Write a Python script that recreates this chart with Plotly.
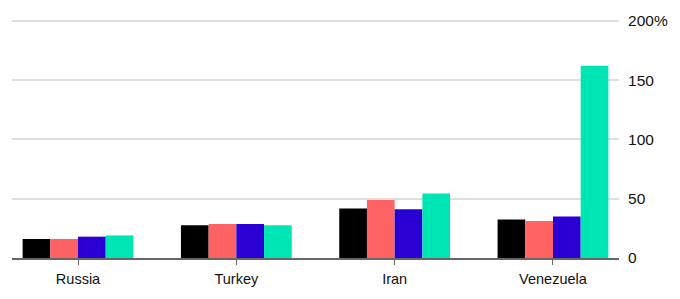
import plotly.graph_objects as go

categories = ["Russia", "Turkey", "Iran", "Venezuela"]
series_a = [16, 27.6, 41.8, 32.4]
series_b = [16, 28.7, 49, 31.2]
series_c = [18, 28.7, 41, 34.9]
series_d = [19, 27.6, 54.4, 162]
colors = ["#000000", "#FF6262", "#2A00D5", "#00E5B4"]
tick_vals = [0, 50, 100, 150, 200]
tick_text = ["0", "50", "100", "150", "200%"]

fig = go.Figure()
for vals, col in zip([series_a, series_b, series_c, series_d], colors):
    fig.add_trace(go.Bar(x=categories, y=vals, marker=dict(color=col, line=dict(width=0)),
                         showlegend=False, hoverinfo="skip"))

fig.update_layout(
    width=680, height=299,
    margin=dict(l=12, r=61, t=17, b=41),
    barmode="group", bargap=0.3, bargroupgap=0,
    plot_bgcolor="white", paper_bgcolor="white",
    font=dict(family="Liberation Sans, Arial, sans-serif", color="#111", size=14),
)
fig.update_xaxes(range=[-0.417, 3.417], showline=True, linecolor="#666", linewidth=1.5,
                 ticks="outside", ticklen=5, tickcolor="#666", showgrid=False,
                 ticklabelstandoff=2, tickfont=dict(size=14.5))
fig.update_yaxes(side="right", range=[0, 201.5], tickvals=tick_vals, ticktext=tick_text,
                 showgrid=True, gridcolor="#dedede", gridwidth=1.5, zeroline=False,
                 ticks="outside", ticklen=5, tickcolor="rgba(0,0,0,0)",
                 tickfont=dict(size=15.5))

fig.write_html("out.html")
